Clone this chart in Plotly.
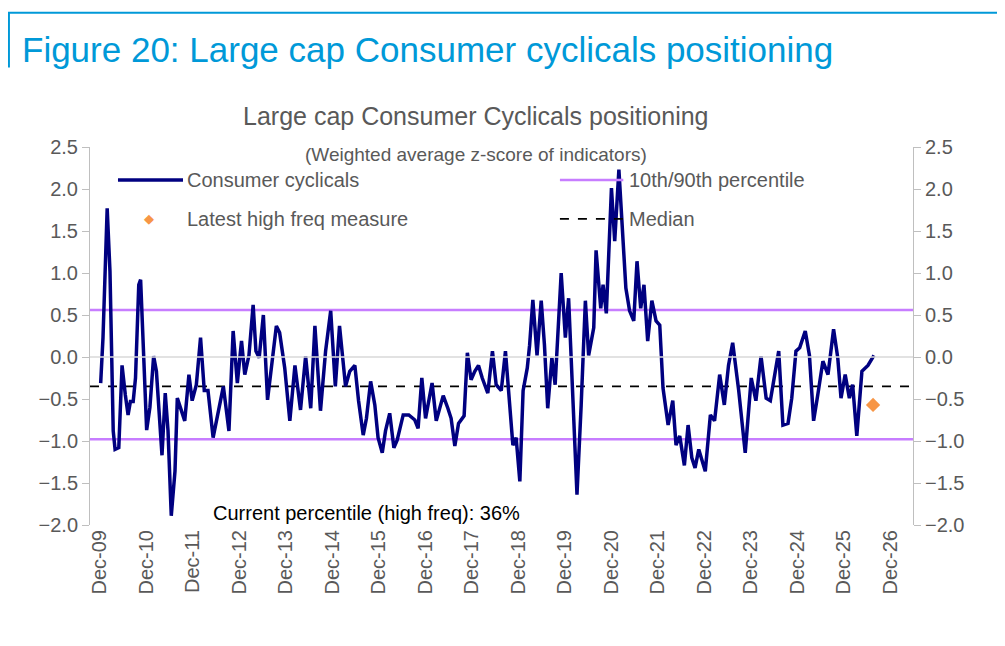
import plotly.graph_objects as go
import datetime as dt

years = [2009.93,2009.98,2010.07,2010.13,2010.20,2010.24,2010.32,2010.39,2010.46,2010.52,2010.57,2010.63,2010.68,2010.75,2010.79,2010.84,2010.92,2010.99,
2011.07,2011.13,2011.20,2011.25,2011.32,2011.38,2011.45,2011.53,2011.58,2011.67,2011.74,2011.83,2011.90,2011.99,2012.08,2012.16,2012.24,2012.35,2012.46,
2012.57,2012.69,2012.78,2012.87,2012.96,2013.03,2013.12,2013.21,2013.27,2013.34,2013.43,2013.52,2013.60,2013.71,2013.78,2013.89,2014.00,2014.11,2014.23,
2014.34,2014.45,2014.54,2014.66,2014.77,2014.88,2014.98,2015.07,2015.20,2015.29,2015.40,2015.48,2015.58,2015.65,2015.74,2015.83,2015.90,2015.99,2016.06,
2016.15,2016.24,2016.31,2016.44,2016.56,2016.69,2016.76,2016.84,2016.92,2017.06,2017.15,2017.30,2017.40,2017.47,2017.55,2017.63,2017.75,2017.82,2017.90,
2017.98,2018.06,2018.14,2018.26,2018.36,2018.44,2018.55,2018.64,2018.80,2018.87,2018.95,2019.02,2019.11,2019.16,2019.23,2019.32,2019.41,2019.48,2019.55,
2019.64,2019.71,2019.84,2019.93,2020.00,2020.07,2020.18,2020.27,2020.36,2020.43,2020.54,2020.59,2020.69,2020.74,2020.81,2020.92,2020.99,2021.08,2021.17,
2021.23,2021.31,2021.40,2021.47,2021.55,2021.62,2021.70,2021.79,2021.88,2021.96,2022.03,2022.14,2022.24,2022.31,2022.39,2022.49,2022.57,2022.65,2022.72,
2022.80,2022.94,2023.05,2023.14,2023.25,2023.35,2023.44,2023.53,2023.66,2023.80,2023.93,2024.03,2024.14,2024.25,2024.34,2024.43,2024.52,2024.61,2024.72,
2024.80,2024.89,2024.97,2025.09,2025.18,2025.27,2025.36,2025.47,2025.58,2025.70,2025.79,2025.86,2025.95,2026.04,2026.11,2026.20,2026.31,2026.44,2026.57]
values = [-0.31,0.23,1.77,1.02,-0.88,-1.10,-1.08,-0.10,-0.45,-0.69,-0.53,-0.53,-0.25,0.86,0.92,0.23,-0.87,-0.60,
0.01,-0.17,-0.73,-1.17,-0.43,-0.88,-1.89,-1.36,-0.49,-0.63,-0.76,-0.21,-0.52,-0.33,0.23,-0.40,-0.40,-0.96,-0.64,
-0.35,-0.88,0.31,-0.31,0.19,-0.21,0.02,0.62,0.07,-0.01,0.50,-0.51,-0.10,0.37,0.29,-0.13,-0.76,-0.10,-0.63,
0.01,-0.61,0.37,-0.64,0.07,0.55,-0.35,0.37,-0.35,-0.17,-0.10,-0.52,-0.93,-0.73,-0.29,-0.57,-0.96,-1.14,-0.88,
-0.67,-1.08,-0.99,-0.69,-0.69,-0.75,-0.85,-0.25,-0.73,-0.31,-0.76,-0.46,-0.61,-0.73,-1.06,-0.79,-0.70,0.05,-0.27,
-0.17,-0.10,-0.25,-0.43,0.07,-0.33,-0.40,0.07,-1.05,-0.96,-1.48,-0.40,-0.13,0.14,0.68,0.02,0.67,0.14,-0.61,
-0.01,-0.33,1.00,0.23,0.70,-0.13,-1.64,-0.57,0.67,0.02,0.35,1.27,0.58,0.86,0.52,2.01,1.38,2.23,1.42,
0.82,0.55,0.43,1.14,0.58,0.86,0.19,0.67,0.43,0.38,-0.37,-0.81,-0.52,-1.05,-0.94,-1.29,-0.81,-1.20,-1.32,
-1.10,-1.36,-0.69,-0.76,-0.21,-0.57,-0.10,0.17,-0.40,-1.14,-0.25,-0.52,0.01,-0.49,-0.52,-0.25,0.07,-0.81,-0.79,
-0.49,0.07,0.11,0.31,0.02,-0.76,-0.45,-0.05,-0.21,0.33,-0.01,-0.49,-0.21,-0.49,-0.33,-0.94,-0.17,-0.10,0.02]
latest_year = [2026.55]
latest_value = [-0.57]
p90 = 0.56
p10 = -0.98
median = -0.35
tick_years = list(range(2009, 2027))
tick_labels = [f"Dec-{y % 100:02d}" for y in tick_years]

def to_date(y):
    yr = int(y)
    start = dt.datetime(yr, 1, 1)
    return start + (dt.datetime(yr + 1, 1, 1) - start) * (y - yr)

dates = [to_date(y) for y in years]
tick_dates = [dt.datetime(y, 12, 1) for y in tick_years]
x0, x1 = to_date(2009.70), to_date(2027.41)

NAVY = "#000080"; PURPLE = "#c77dff"; ORANGE = "#f79646"; GRAY = "#595959"; BLUE = "#0099d8"
FONT = "Liberation Sans"

fig = go.Figure()
fig.add_trace(go.Scatter(x=[x0, x1], y=[p90, p90], mode="lines", line=dict(color=PURPLE, width=2.5), hoverinfo="skip"))
fig.add_trace(go.Scatter(x=[x0, x1], y=[p10, p10], mode="lines", line=dict(color=PURPLE, width=2.5), hoverinfo="skip"))
fig.add_trace(go.Scatter(x=[x0, x1], y=[median, median], mode="lines", line=dict(color="black", width=1.8, dash="dash"), hoverinfo="skip"))
fig.add_trace(go.Scatter(x=dates, y=values, mode="lines", line=dict(color=NAVY, width=3.5)))
fig.add_trace(go.Scatter(x=[to_date(v) for v in latest_year], y=latest_value, mode="markers",
                         marker=dict(symbol="diamond", color=ORANGE, size=11)))
fig.add_trace(go.Scatter(x=[x0], y=[0], yaxis="y2", mode="markers", marker=dict(opacity=0), hoverinfo="skip"))

yticks = dict(range=[-2.0, 2.5], tickvals=[-2 + 0.5 * i for i in range(10)], tickformat=".1f", automargin=False,
              showgrid=False, zeroline=False, showline=True, linecolor="#bfbfbf", ticks="outside",
              ticklen=7, tickcolor="#bfbfbf", tickfont=dict(size=20, color=GRAY, family=FONT))
fig.update_layout(
    width=1005, height=646, plot_bgcolor="white", paper_bgcolor="white", showlegend=False,
    margin=dict(l=82, r=100, t=139, b=129, autoexpand=False),
    font=dict(family=FONT),
    xaxis=dict(range=[x0, x1], tickvals=tick_dates, ticktext=tick_labels, tickangle=-90, automargin=False,
               showgrid=False, zeroline=False, showline=False, ticks="",
               tickfont=dict(size=20, color=GRAY, family=FONT)),
    yaxis=dict(**yticks),
    yaxis2=dict(**yticks, overlaying="y", side="right"),
    shapes=[
        dict(type="line", xref="x", yref="y", x0=x0, x1=x1, y0=0, y1=0, line=dict(color="#d9d9d9", width=1.5)),
        dict(type="line", xref="paper", yref="paper", x0=0.034, x1=0.113, y0=0.913, y1=0.913, line=dict(color=NAVY, width=3.5)),
        dict(type="line", xref="paper", yref="paper", x0=0.571, x1=0.648, y0=0.913, y1=0.913, line=dict(color=PURPLE, width=2.5)),
        dict(type="line", xref="paper", yref="paper", x0=0.571, x1=0.648, y0=0.81, y1=0.81, line=dict(color="black", width=1.8, dash="dash")),
        dict(type="line", xref="paper", yref="paper", x0=-0.1, x1=1.12, y0=1.355, y1=1.355, line=dict(color=BLUE, width=2)),
        dict(type="line", xref="paper", yref="paper", x0=-0.0985, x1=-0.0985, y0=1.355, y1=1.21, line=dict(color=BLUE, width=2)),
    ],
    annotations=[
        dict(text="Figure 20: Large cap Consumer cyclicals positioning", xref="paper", yref="paper",
             x=-0.085, y=1.257, xanchor="left", yanchor="middle", showarrow=False,
             font=dict(size=35, color=BLUE, family=FONT)),
        dict(text="Large cap Consumer Cyclicals positioning", xref="paper", yref="paper", x=0.469, y=1.082,
             xanchor="center", yanchor="middle", showarrow=False, font=dict(size=25, color=GRAY, family=FONT)),
        dict(text="(Weighted average z-score of indicators)", xref="paper", yref="paper", x=0.469, y=0.981,
             xanchor="center", yanchor="middle", showarrow=False, font=dict(size=19, color=GRAY, family=FONT)),
        dict(text="Consumer cyclicals", xref="paper", yref="paper", x=0.115, y=0.913, xanchor="left",
             yanchor="middle", showarrow=False, font=dict(size=20, color=GRAY, family=FONT)),
        dict(text="Latest high freq measure", xref="paper", yref="paper", x=0.115, y=0.81, xanchor="left",
             yanchor="middle", showarrow=False, font=dict(size=20, color=GRAY, family=FONT)),
        dict(text="<span style='color:%s'>◆</span>" % ORANGE, xref="paper", yref="paper", x=0.072, y=0.81,
             xanchor="center", yanchor="middle", showarrow=False, font=dict(size=13)),
        dict(text="10th/90th percentile", xref="paper", yref="paper", x=0.652, y=0.913, xanchor="left",
             yanchor="middle", showarrow=False, font=dict(size=20, color=GRAY, family=FONT)),
        dict(text="Median", xref="paper", yref="paper", x=0.652, y=0.81, xanchor="left",
             yanchor="middle", showarrow=False, font=dict(size=20, color=GRAY, family=FONT)),
        dict(text="Current percentile (high freq): 36%", xref="paper", yref="paper", x=0.147, y=0.032,
             xanchor="left", yanchor="middle", showarrow=False, font=dict(size=20, color="black", family=FONT)),
    ],
)
fig.write_html("out.html")
